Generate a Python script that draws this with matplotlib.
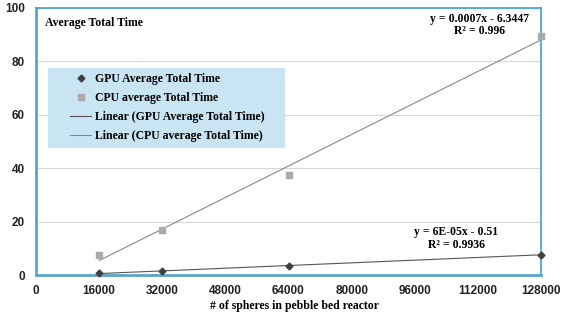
import matplotlib
matplotlib.use("Agg")
import matplotlib.pyplot as plt
import numpy as np
from matplotlib.lines import Line2D
from matplotlib.patches import Rectangle

spheres = [16000, 32000, 64000, 128000]
gpu_time = [0.6, 1.5, 3.5, 7.6]
cpu_time = [7.5, 17.0, 37.5, 89.5]
x_ticks = [0, 16000, 32000, 48000, 64000, 80000, 96000, 112000, 128000]
y_ticks = [0, 20, 40, 60, 80, 100]
cpu_eq = "y = 0.0007x - 6.3447\nR² = 0.996"
gpu_eq = "y = 6E-05x - 0.51\nR² = 0.9936"

serif = "Liberation Serif"
sans = "Liberation Sans"

fig = plt.figure(figsize=(5.66, 3.2), dpi=100)
ax = fig.add_axes([36/566, 1-275/320, (541-36)/566, (275-8)/320])

x = np.array(spheres, dtype=float)
gp = np.polyfit(x, gpu_time, 1)
cp = np.polyfit(x, cpu_time, 1)
xl = np.array([x.min(), x.max()])

ax.plot(xl, np.polyval(gp, xl), color="#555555", lw=0.8, zorder=2)
ax.plot(xl, np.polyval(cp, xl), color="#888888", lw=0.8, zorder=2)
ax.plot(x, gpu_time, linestyle="none", marker="D", ms=3.5, color="#404040", zorder=3, clip_on=False)
ax.plot(x, cpu_time, linestyle="none", marker="s", ms=5, color="#aaaaaa", zorder=3, clip_on=False)

ax.set_xlim(0, 128000)
ax.set_ylim(0, 100)
ax.set_xticks(x_ticks)
ax.set_yticks(y_ticks)
ax.set_xticklabels([str(t) for t in x_ticks], fontfamily=sans, fontweight="bold", fontsize=8.5, color="#222222")
ax.set_yticklabels([str(t) for t in y_ticks], fontfamily=sans, fontweight="bold", fontsize=8.5, color="#222222")
ax.tick_params(axis="x", length=0, pad=7)
ax.tick_params(axis="y", length=0, pad=8)
ax.grid(axis="y", color="#d9d9d9", lw=0.8, zorder=0.5)
ax.set_axisbelow(True)

for s in ["top", "right"]:
    ax.spines[s].set_color("#3fa0d8")
    ax.spines[s].set_linewidth(1.2)
for s in ["left", "bottom"]:
    ax.spines[s].set_color("#5aa5cc")
    ax.spines[s].set_linewidth(2.0)

ax.set_xlabel("# of spheres in pebble bed reactor", fontfamily=serif, fontweight="bold", fontsize=8.5)
ax.xaxis.set_label_coords((295-36)/505, -(306-275)/267)
ax.xaxis.label.set_va("center")

ax.text(0.018, 0.965, "Average Total Time", transform=ax.transAxes, fontfamily=serif,
        fontweight="bold", fontsize=8.5, va="top", ha="left")
ax.text(0.879, 0.982, cpu_eq, transform=ax.transAxes, fontfamily=serif, fontweight="bold",
        fontsize=8.5, va="top", ha="center", linespacing=1.05)
ax.text(0.832, 0.183, gpu_eq, transform=ax.transAxes, fontfamily=serif, fontweight="bold",
        fontsize=8.5, va="top", ha="center", linespacing=1.05)

ax.add_patch(Rectangle(((48-36)/505, (275-148)/267), (285-48)/505, 80/267,
                       transform=ax.transAxes, facecolor="#c9e5f4", edgecolor="none", zorder=1.5))

handles = [
    Line2D([], [], linestyle="none", marker="D", ms=3.5, color="#404040"),
    Line2D([], [], linestyle="none", marker="s", ms=5, color="#aaaaaa"),
    Line2D([], [], color="#555555", lw=0.8),
    Line2D([], [], color="#888888", lw=0.8),
]
labels = ["GPU Average Total Time", "CPU average Total Time",
          "Linear (GPU Average Total Time)", "Linear (CPU average Total Time)"]
leg = ax.legend(handles, labels, loc="upper left", bbox_to_anchor=((70-36)/505, (275-73)/267),
                frameon=False, handlelength=1.8, handletextpad=0.3,
                borderpad=0, borderaxespad=0, labelspacing=0.6,
                prop={"family": serif, "weight": "bold", "size": 8.5})

fig.savefig("out.png", dpi=100)
